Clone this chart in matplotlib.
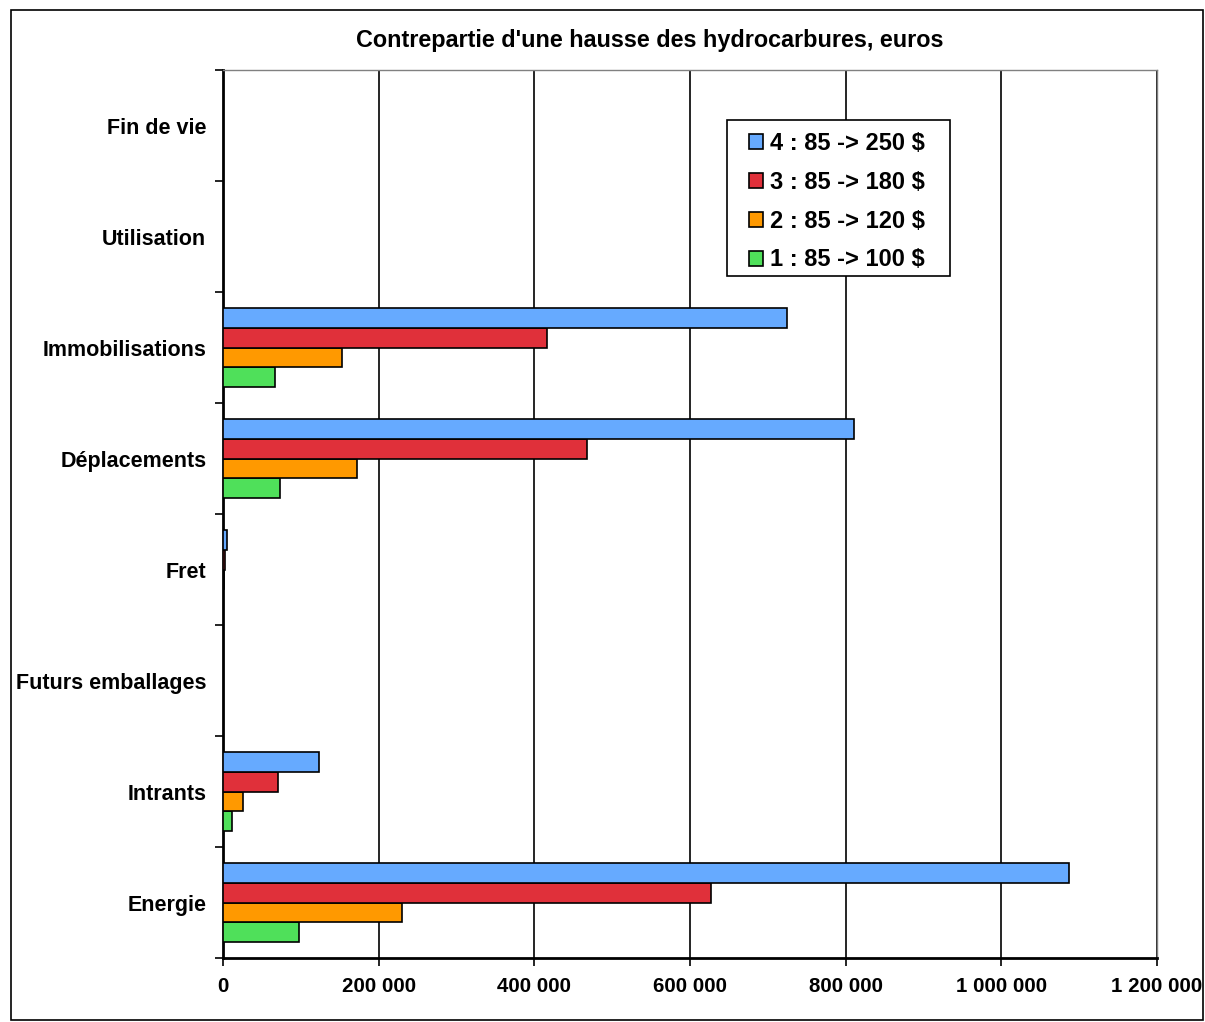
import numpy as np
import matplotlib.pyplot as plt
from matplotlib.ticker import FuncFormatter
from matplotlib.patches import Rectangle

plt.rcParams['font.family'] = ['Liberation Sans', 'DejaVu Sans']
plt.rcParams['font.weight'] = 'bold'

# categories, bottom to top
categories = ['Energie', 'Intrants', 'Futurs emballages', 'Fret',
              'Déplacements', 'Immobilisations', 'Utilisation', 'Fin de vie']

# euros, one list per scenario
s1 = [97600, 11600, 0, 500, 73000, 67000, 0, 0]
s2 = [230000, 25700, 0, 1000, 172000, 153000, 0, 0]
s3 = [627000, 70700, 0, 2500, 468000, 416000, 0, 0]
s4 = [1087000, 123000, 0, 5000, 811000, 725000, 0, 0]

labels = ['1 : 85 -> 100 $', '2 : 85 -> 120 $', '3 : 85 -> 180 $', '4 : 85 -> 250 $']
colors = ['#4fe05a', '#ff9900', '#e0303a', '#66aaff']

W, H = 1205, 1022
fig = plt.figure(figsize=(W / 100, H / 100), dpi=100)
ax = fig.add_axes([223 / W, 1 - 958 / H, (1157 - 223) / W, (958 - 70) / H])

y = np.arange(len(categories))
h = 0.18
for i, (vals, col, lab) in enumerate(zip([s1, s2, s3, s4], colors, labels)):
    ax.barh(y - (1.5 - i) * h, vals, height=h, color=col, edgecolor='black',
            linewidth=1.2, label=lab, zorder=3)

ax.set_xlim(0, 1200000)
ax.set_ylim(-0.5, len(categories) - 0.5)
ax.set_xticks(np.arange(0, 1200001, 200000))
ax.xaxis.set_major_formatter(FuncFormatter(lambda v, p: '{:,.0f}'.format(v).replace(',', ' ')))
ax.set_yticks(y)
ax.set_yticklabels(categories)
ax.set_yticks(np.arange(-0.5, len(categories), 1), minor=True)
ax.tick_params(axis='y', which='major', length=0, pad=12, labelsize=15.5)
ax.tick_params(axis='y', which='minor', length=6, width=1.2, direction='out')
ax.tick_params(axis='x', length=6, width=1.2, labelsize=14.8, pad=8)
ax.grid(axis='x', color='black', linewidth=1.2, zorder=0)

for side in ['left', 'bottom']:
    ax.spines[side].set_linewidth(2)
for side in ['top', 'right']:
    ax.spines[side].set_color('#808080')
    ax.spines[side].set_linewidth(1)

# legend entries without frame, box drawn separately
handles, labs = ax.get_legend_handles_labels()
leg = fig.legend(handles[::-1], labs[::-1], loc='upper left',
                 bbox_to_anchor=(749 / W, 1 - 132 / H),
                 fontsize=17, frameon=False,
                 handlelength=0.6, handleheight=0.6, handletextpad=0.28,
                 labelspacing=0.67, borderpad=0, borderaxespad=0)
leg.set_zorder(6)
fig.patches.append(Rectangle((727 / W, 1 - 276 / H), (950 - 727) / W, (276 - 120) / H,
                             transform=fig.transFigure, facecolor='white',
                             edgecolor='black', linewidth=1.2, zorder=5))

fig.text(650 / W, 1 - 40 / H, "Contrepartie d'une hausse des hydrocarbures, euros",
         ha='center', va='center', fontsize=16.8, fontweight='bold')

fig.patches.append(Rectangle((11 / W, 2 / H), 1192 / W, 1010 / H,
                             transform=fig.transFigure, fill=False,
                             edgecolor='black', linewidth=1.2))

fig.savefig('out.png', dpi=100)
